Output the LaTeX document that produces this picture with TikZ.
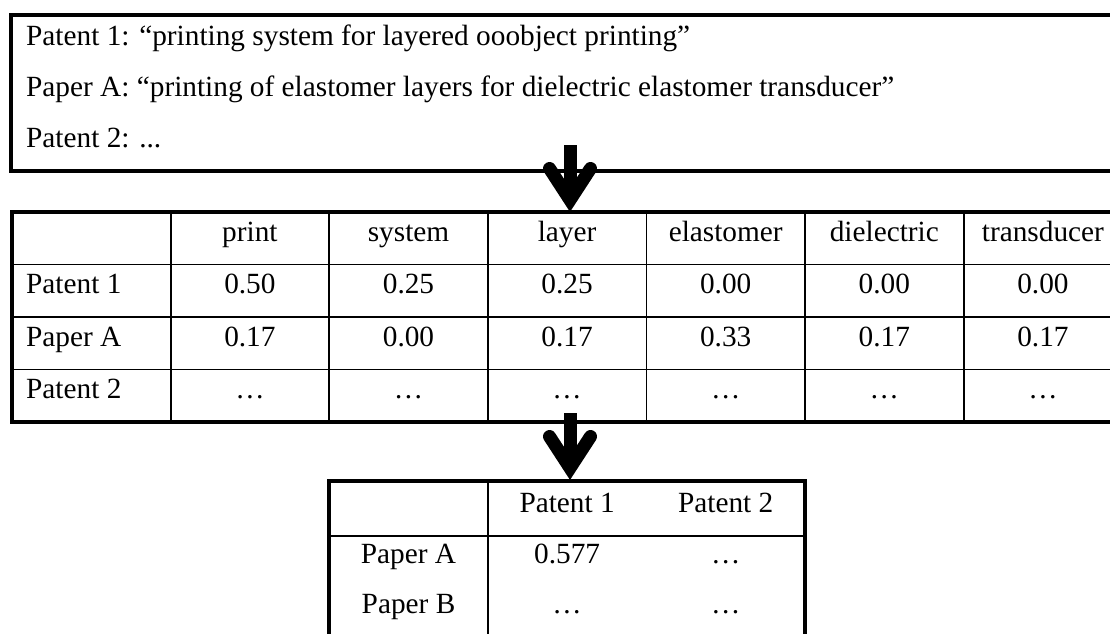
\documentclass[tikz,border=0pt]{standalone}
\usepackage{fontspec}
\setmainfont{Liberation Serif}
\begin{document}
\begin{tikzpicture}[x=1pt,y=-1pt,
  txt/.style={inner sep=0pt,font=\fontsize{29.3}{35}\selectfont},
  lbl/.style={txt,anchor=base west},
  cell/.style={txt,anchor=base},
  thickrule/.style={line width=4pt},
  thinrule/.style={line width=1.8pt},
  bigshaft/.style={line width=13pt},
  bighead/.style={line width=13pt,line cap=round,line join=miter},
  bigarrow/.pic={
    \draw[bigshaft] (0,0) -- (0,53);
    \draw[bighead] (-20.5,23.5) -- (0,55) -- (20.5,23.5);
  }]
\useasboundingbox (0,0) rectangle (1110,633);
\fill[white] (0,0) rectangle (1110,633);
\clip (0,0) rectangle (1110,633);

% top box
\draw[thickrule] (1130,15) -- (11,15) -- (11,170.5) -- (1130,170.5);
\node[lbl] (p1) at (26,45) {Patent 1: “printing system for layered ooobject printing”};
\node[lbl] (pa) at (26,96) {Paper A: “printing of elastomer layers for dielectric elastomer transducer”};
\node[lbl] (p2) at (26,147) {Patent 2: ...};

% arrow 1
\coordinate (a1) at (570,145);
\pic at (a1) {bigarrow};

% term table
\foreach \k in {1,...,6}
  \draw[thinrule] ({12+\k*158.6},212) -- ({12+\k*158.6},422);
\foreach \yy in {264.5,317,369.5}
  \draw[thinrule] (12,\yy) -- (1130,\yy);
\draw[thickrule] (1130,212) -- (12,212) -- (12,422) -- (1130,422);

\foreach \w [count=\k] in {print,system,layer,elastomer,dielectric,transducer}
  \node[cell] (h\k) at ({12+(\k+0.5)*158.6},241) {\w};

\node[lbl] (r1) at (26,293.5) {Patent 1};
\node[lbl] (r2) at (26,346) {Paper A};
\node[lbl] (r3) at (26,398.5) {Patent 2};

\foreach \v [count=\k] in {0.50,0.25,0.25,0.00,0.00,0.00}
  \node[cell] (a\k) at ({12+(\k+0.5)*158.6},293.5) {\v};
\foreach \v [count=\k] in {0.17,0.00,0.17,0.33,0.17,0.17}
  \node[cell] (b\k) at ({12+(\k+0.5)*158.6},346) {\v};
\foreach \k in {1,...,6}
  \node[cell] (c\k) at ({12+(\k+0.5)*158.6},398.5) {…};

% arrow 2
\coordinate (a2) at (570,413);
\pic at (a2) {bigarrow};

% similarity table
\draw[thinrule] (329.2,536) -- (805,536);
\draw[thinrule] (487.8,481) -- (487.8,640);
\draw[thickrule] (329.2,640) -- (329.2,481) -- (805,481) -- (805,640);

\node[cell] (s1) at (567.1,512) {Patent 1};
\node[cell] (s2) at (725.7,512) {Patent 2};
\node[cell] (sa) at (408.5,563) {Paper A};
\node[cell] (sb) at (408.5,613.5) {Paper B};
\node[cell] (v1) at (567.1,563) {0.577};
\node[cell] (v2) at (725.7,563) {…};
\node[cell] (v3) at (567.1,613.5) {…};
\node[cell] (v4) at (725.7,613.5) {…};
\end{tikzpicture}
\end{document}
